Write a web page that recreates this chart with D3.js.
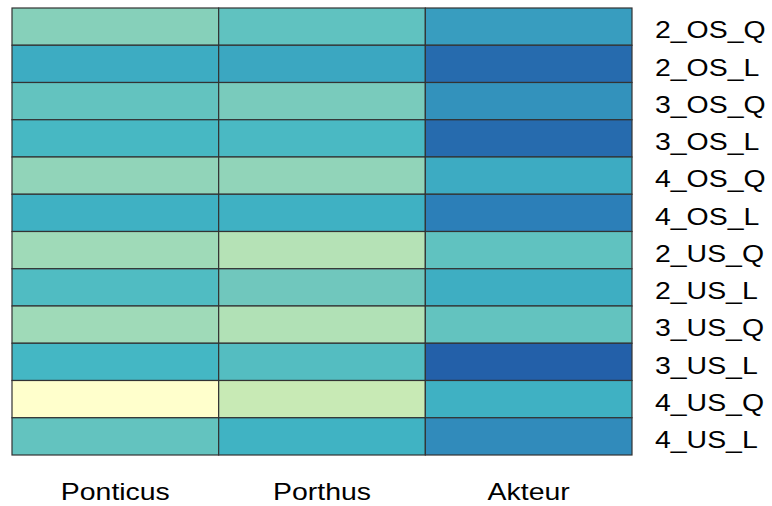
<!DOCTYPE html>
<html>
<head>
<meta charset="utf-8">
<script src="https://cdn.jsdelivr.net/npm/d3@7"></script>
<style>
  body{margin:0;background:#fff;}
  text{font-family:"Liberation Sans",Arial,sans-serif;fill:#000;}
</style>
</head>
<body>
<div id="chart"></div>
<script>
// heatmap values (0..1), one array per column
const cols = ['Ponticus','Porthus','Akteur'];
const rows = ['2_OS_Q','2_OS_L','3_OS_Q','3_OS_L','4_OS_Q','4_OS_L',
              '2_US_Q','2_US_L','3_US_Q','3_US_L','4_US_Q','4_US_L'];
const valPonticus = [0.38,0.636,0.49,0.58,0.35,0.62,0.31,0.55,0.31,0.59,0.00,0.49];
const valPorthus  = [0.50,0.655,0.42,0.57,0.35,0.62,0.25,0.45,0.26,0.54,0.195,0.61];
const valAkteur   = [0.69,0.92,0.73,0.92,0.64,0.80,0.50,0.63,0.49,0.99,0.62,0.756];
const palette = ['#ffffcc','#c7e9b4','#7fcdbb','#41b6c4','#2c7fb8','#225ea8'];

const W = 772, H = 506;
const gx0 = 12, gx1 = 632, gy0 = 8, gy1 = 455;
const sx = 1.17; // labels are a bit wider than plain Arial

let dtCells = [];
[valPonticus,valPorthus,valAkteur].forEach((arr,ci)=>{
    arr.forEach((v,ri)=>dtCells.push({col:cols[ci],row:rows[ri],v:v}));
});

let x = d3.scaleBand().domain(cols).range([gx0,gx1]);
let y = d3.scaleBand().domain(rows).range([gy0,gy1]);
let clr = d3.scaleLinear()
    .domain(d3.range(palette.length).map(i=>i/(palette.length-1)))
    .range(palette);

let svg = d3.select('#chart').append('svg')
    .attr('width',W).attr('height',H);

svg.append('g').selectAll('rect')
    .data(dtCells).enter()
    .append('rect')
    .attr('x',d=>x(d.col))
    .attr('y',d=>y(d.row))
    .attr('width',x.bandwidth())
    .attr('height',y.bandwidth())
    .attr('fill',d=>clr(d.v))
    .attr('stroke','#333')
    .attr('stroke-width',1.2);

// row labels
svg.append('g').selectAll('text')
    .data(rows).enter()
    .append('text')
    .attr('transform',d=>`translate(655,${y(d)+y.bandwidth()/2+11.7}) scale(${sx},1)`)
    .attr('font-size',24.3)
    .text(d=>d);

// column labels
svg.append('g').selectAll('text')
    .data(cols).enter()
    .append('text')
    .attr('transform',d=>`translate(${x(d)+x.bandwidth()/2},500) scale(${sx},1)`)
    .attr('text-anchor','middle')
    .attr('font-size',24.3)
    .text(d=>d);
</script>
</body>
</html>
